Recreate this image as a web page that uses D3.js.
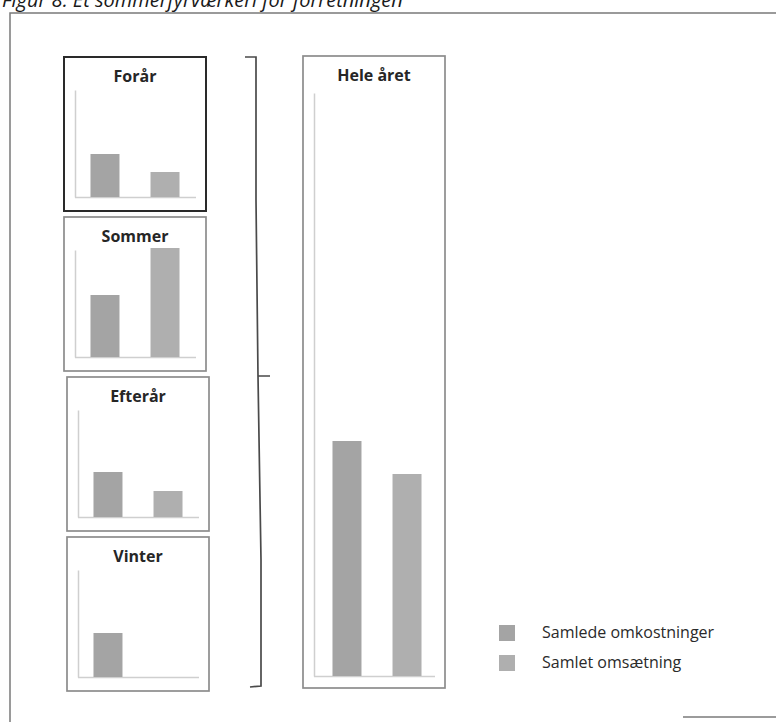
<!DOCTYPE html>
<html>
<head>
<meta charset="utf-8">
<script src="https://cdn.jsdelivr.net/npm/d3@7"></script>
<style>
  html, body { margin: 0; padding: 0; background: #ffffff; }
  svg { display: block; }
</style>
</head>
<body>
<svg id="chart" width="776" height="722"></svg>
<script>
// ---- data ----
const seasons = ["Forår", "Sommer", "Efterår", "Vinter"];
const seasonCosts = [43, 62, 45, 44];
const seasonRevenue = [25, 109, 26, 0];
const yearLabel = "Hele året";
const yearCosts = [235];
const yearRevenue = [202];
const seriesNames = ["Samlede omkostninger", "Samlet omsætning"];
const seriesColors = ["#a4a4a4", "#afafaf"];
const figureTitle = "Figur 8: Et sommerfyrværkeri for forretningen";

// ---- layout ----
const svg = d3.select("#chart");
const font = "'Open Sans', 'DejaVu Sans', sans-serif";

// figure title, cut at the top edge as in the scanned reference
svg.append("text")
  .attr("x", 2).attr("y", 7)
  .attr("font-family", font)
  .attr("font-style", "italic")
  .attr("font-size", 20)
  .attr("fill", "#1a1a1a")
  .text(figureTitle);

// outer frame
svg.append("path")
  .attr("d", "M10,722 L10,13 L776,13")
  .attr("fill", "none").attr("stroke", "#7a7a7a").attr("stroke-width", 1.5);
svg.append("line")
  .attr("x1", 683).attr("x2", 776).attr("y1", 717).attr("y2", 717)
  .attr("stroke", "#7a7a7a").attr("stroke-width", 1.5);

function drawPanel(opts) {
  const { x, y, w, h, title, costs, revenue, maxVal, axisTop, baseline, bandStart, dark } = opts;
  const g = svg.append("g");
  g.append("rect")
    .attr("x", x).attr("y", y).attr("width", w).attr("height", h)
    .attr("fill", "#fff")
    .attr("stroke", dark ? "#2a2a2a" : "#8c8c8c")
    .attr("stroke-width", dark ? 2 : 1.7);
  g.append("text")
    .attr("x", x + w / 2).attr("y", y + 25)
    .attr("text-anchor", "middle")
    .attr("font-family", font).attr("font-weight", "bold")
    .attr("font-size", 16).attr("fill", "#262626")
    .text(title);

  const yScale = d3.scaleLinear().domain([0, maxVal]).range([y + baseline, y + axisTop]);
  const xScale = d3.scaleBand().domain(seriesNames)
    .range([x + bandStart, x + bandStart + 120])
    .paddingInner(0.517).paddingOuter(0.258);

  // axes (no ticks, light lines)
  const yAxis = d3.axisLeft(yScale).tickValues([]).tickSizeOuter(0);
  g.append("g").attr("transform", `translate(${x + 11},0)`).call(yAxis)
    .select(".domain").attr("stroke", "#cfcfcf").attr("stroke-width", 1.5);
  const xAxis = d3.axisBottom(xScale).tickValues([]).tickSizeOuter(0);
  const xa = g.append("g").attr("transform", `translate(0,${y + baseline})`).call(xAxis);
  xa.select(".domain").attr("d", `M${x + 11},0.5H${x + w - 10}`)
    .attr("stroke", "#cfcfcf").attr("stroke-width", 1.5);

  const vals = [costs, revenue];
  g.selectAll("rect.bar")
    .data(seriesNames.map((s, i) => ({ s, v: vals[i], c: seriesColors[i] })).filter(d => d.v > 0))
    .join("rect").attr("class", "bar")
    .attr("x", d => xScale(d.s))
    .attr("width", xScale.bandwidth())
    .attr("y", d => yScale(d.v))
    .attr("height", d => yScale(0) - yScale(d.v))
    .attr("fill", d => d.c);
}

const seasonBoxX = [64, 64, 67, 67];
const seasonBoxY = [57, 217, 377, 537];
seasons.forEach((s, i) => {
  drawPanel({
    x: seasonBoxX[i], y: seasonBoxY[i], w: 142, h: 154,
    title: s, costs: seasonCosts[i], revenue: seasonRevenue[i],
    maxVal: 107, axisTop: 33, baseline: 140, bandStart: 11, dark: i === 0
  });
});

drawPanel({
  x: 303, y: 56, w: 142, h: 632,
  title: yearLabel, costs: yearCosts[0], revenue: yearRevenue[0],
  maxVal: 583, axisTop: 37, baseline: 620, bandStart: 14, dark: false
});

// brace
svg.append("path")
  .attr("d", "M245,57 L256,57 L256,200 L258,376 L270,376 M258,376 L261,560 L261,686 L250,687")
  .attr("fill", "none").attr("stroke", "#4a4a4a").attr("stroke-width", 1.7);

// legend
const legend = svg.append("g");
seriesNames.forEach((name, i) => {
  const ly = 625 + i * 30;
  legend.append("rect")
    .attr("x", 499).attr("y", ly).attr("width", 16).attr("height", 16)
    .attr("fill", seriesColors[i]);
  legend.append("text")
    .attr("x", 542).attr("y", ly + 13)
    .attr("font-family", font).attr("font-size", 16)
    .attr("fill", "#2a2a2a")
    .text(name);
});
</script>
</body>
</html>
